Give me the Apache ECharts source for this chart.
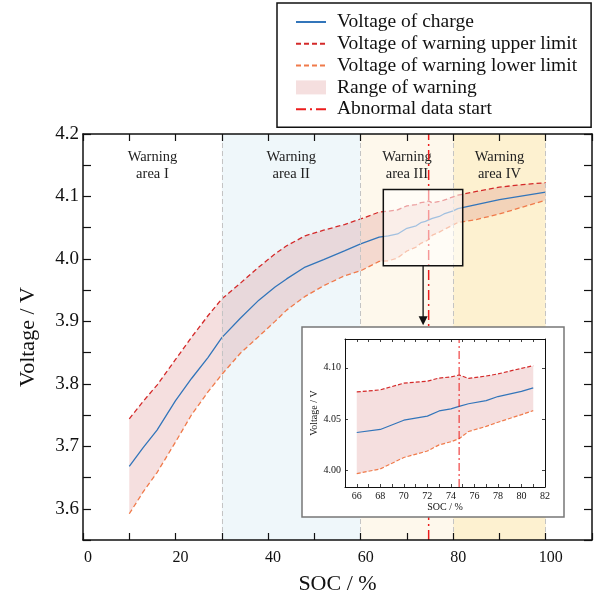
<!DOCTYPE html>
<html>
<head>
<meta charset="utf-8">
<script src="https://cdn.jsdelivr.net/npm/echarts@6/dist/echarts.min.js"></script>
<style>html,body{margin:0;padding:0;background:#fff;}#c{width:599px;height:600px;}</style>
</head>
<body>
<div id="c"></div>
<script>
// ---- data ----
const soc = [10,13,16,20,23.5,27,30,34,38,41.5,44,48,52,56.5,60,64,66,68,70,72,73,74,74.7,75.5,77,78,80,81,85,90,95,100];
const charge = [3.668,3.698,3.726,3.773,3.809,3.842,3.874,3.905,3.934,3.955,3.968,3.987,3.999,4.013,4.024,4.035,4.037,4.040,4.049,4.053,4.058,4.060,4.0625,4.065,4.068,4.072,4.077,4.0805,4.087,4.095,4.101,4.107];
const upper = [3.744,3.772,3.798,3.839,3.875,3.909,3.936,3.961,3.987,4.008,4.021,4.037,4.046,4.055,4.064,4.075,4.0765,4.0785,4.085,4.087,4.090,4.091,4.093,4.0896,4.092,4.094,4.0995,4.102,4.108,4.115,4.119,4.122];
const lower = [3.592,3.627,3.658,3.707,3.751,3.787,3.815,3.849,3.876,3.900,3.918,3.940,3.957,3.973,3.981,3.996,3.997,4.0016,4.0127,4.019,4.025,4.028,4.031,4.038,4.043,4.047,4.0544,4.0583,4.063,4.072,4.083,4.094];
const areaBounds = [0, 30, 60, 80, 100];
const areaNames = ['Warning\narea I', 'Warning\narea II', 'Warning\narea III', 'Warning\narea IV'];
const abnormalSoc = 74.7;
const insetRange = [66, 81];
const zoomBox = [64.9, 3.989, 82.06, 4.111];
const arrowX = 73.5;
const arrowY = [3.989, 3.894];
const xTicksMain = [0, 110, 10];
const yTicksMain = [3.55, 4.2, 0.05];
const insetX = [65, 82, 1];
const insetY = [3.984, 4.128];
const insetYTicks = [4.00, 4.05, 4.10];

// ---- styles ----
const FONT = 'Liberation Serif';
const C_BLUE = '#3275ba', C_RED = '#d42a2a', C_ORANGE = '#f07a4a', C_ABN = '#ec1c1c';
const BAND = 'rgba(205,95,95,0.2)';
const areaColors = ['rgba(0,0,0,0)', '#eff7fa', '#fef8ec', '#fdf1d0'];

const idx = soc.map((s, i) => i).filter(i => soc[i] >= insetRange[0] && soc[i] <= insetRange[1]);
const sub = arr => idx.map(i => arr[i]);
const socIn = sub(soc), chargeIn = sub(charge), upperIn = sub(upper), lowerIn = sub(lower);
const pairs = (xs, ys) => xs.map((x, i) => [x, ys[i]]);

function bandRender(xs, lo, hi) {
  return function (params, api) {
    if (params.dataIndex !== 0) return;
    const pts = [];
    for (let i = 0; i < xs.length; i++) pts.push(api.coord([xs[i], hi[i]]));
    for (let i = xs.length - 1; i >= 0; i--) pts.push(api.coord([xs[i], lo[i]]));
    return { type: 'polygon', shape: { points: pts }, style: { fill: BAND } };
  };
}

function axisX(gi, pos, rng, showLabel, fs, fmt, tickLen, name, gap, nameFs) {
  return {
    type: 'value', gridIndex: gi, position: pos, min: rng[0], max: rng[1], interval: rng[2], z: gi === 0 ? 15 : 40,
    name: name || '', nameLocation: 'middle', nameGap: gap || 0,
    nameTextStyle: { fontFamily: FONT, fontSize: nameFs || 12, color: '#111' },
    axisLine: { show: true, onZero: false, lineStyle: { color: '#111', width: gi === 0 ? 1.5 : 1 } },
    axisTick: { show: true, inside: true, length: tickLen, lineStyle: { color: '#111', width: gi === 0 ? 1.2 : 0.8 } },
    axisLabel: { show: showLabel, fontFamily: FONT, fontSize: fs, color: '#111', formatter: fmt, margin: gi === 0 ? 10 : 4, padding: gi === 0 ? [0, 0, 0, 10] : 0 },
    splitLine: { show: false }
  };
}

const mainXFmt = v => (Math.round(v) % 20 === 0 && v <= 100) ? String(Math.round(v)) : '';
const mainYFmt = v => { const r = Math.round(v * 100); return r % 10 === 0 ? (r / 100).toFixed(1) : ''; };
const inXFmt = v => (Math.round(v) % 2 === 0) ? String(Math.round(v)) : '';

const xAxes = [
  axisX(0, 'bottom', xTicksMain, true, 16, mainXFmt, 7, 'SOC / %', 33, 22),
  axisX(0, 'top', xTicksMain, false, 16, mainXFmt, 7),
  axisX(1, 'bottom', insetX, true, 10, inXFmt, 3, 'SOC / %', 15, 10),
  axisX(1, 'top', insetX, false, 10, inXFmt, 3)
];
const yAxes = [
  {
    type: 'value', gridIndex: 0, position: 'left', min: yTicksMain[0], max: yTicksMain[1], interval: yTicksMain[2], z: 15,
    name: 'Voltage / V', nameLocation: 'middle', nameGap: 44,
    nameTextStyle: { fontFamily: FONT, fontSize: 22, color: '#111' },
    axisLine: { show: true, onZero: false, lineStyle: { color: '#111', width: 1.5 } },
    axisTick: { show: true, inside: true, length: 8, lineStyle: { color: '#111', width: 1.2 } },
    axisLabel: { fontFamily: FONT, fontSize: 19, color: '#111', formatter: mainYFmt, margin: 4 },
    splitLine: { show: false }
  },
  {
    type: 'value', gridIndex: 0, position: 'right', min: yTicksMain[0], max: yTicksMain[1], interval: yTicksMain[2], z: 15,
    axisLine: { show: true, onZero: false, lineStyle: { color: '#111', width: 1.5 } },
    axisTick: { show: true, inside: true, length: 8, lineStyle: { color: '#111', width: 1.2 } },
    axisLabel: { show: false }, splitLine: { show: false }
  },
  {
    type: 'value', gridIndex: 1, position: 'left', min: insetY[0], max: insetY[1], z: 40,
    name: 'Voltage / V', nameLocation: 'middle', nameGap: 25,
    nameTextStyle: { fontFamily: FONT, fontSize: 10, color: '#111' },
    axisLine: { show: true, onZero: false, lineStyle: { color: '#111', width: 1 } },
    axisTick: { show: true, inside: true, length: 3, customValues: insetYTicks, lineStyle: { color: '#111', width: 0.8 } },
    axisLabel: { fontFamily: FONT, fontSize: 10, color: '#111', customValues: insetYTicks, formatter: v => v.toFixed(2), margin: 4 },
    splitLine: { show: false }
  },
  {
    type: 'value', gridIndex: 1, position: 'right', min: insetY[0], max: insetY[1], z: 40,
    axisLine: { show: true, onZero: false, lineStyle: { color: '#111', width: 1 } },
    axisTick: { show: true, inside: true, length: 3, customValues: insetYTicks, lineStyle: { color: '#111', width: 0.8 } },
    axisLabel: { show: false, customValues: insetYTicks }, splitLine: { show: false }
  }
];

function lineSeries(name, xi, yi, data, color, type, width, z) {
  return {
    name: name, type: 'line', xAxisIndex: xi, yAxisIndex: yi, data: data, showSymbol: false, symbol: 'none',
    lineStyle: { color: color, type: type, width: width }, itemStyle: { color: color }, z: z, silent: true
  };
}

const mainAreas = areaNames.map((n, i) => [
  { xAxis: areaBounds[i], itemStyle: { color: areaColors[i] },
    label: { show: true, position: 'insideTop', distance: 15, formatter: n, fontFamily: FONT, fontSize: 14.5, lineHeight: 17, color: '#222' } },
  { xAxis: areaBounds[i + 1] }
]);

const series = [
  {
    type: 'line', xAxisIndex: 0, yAxisIndex: 0, data: [[0, 3.55]], symbol: 'none', lineStyle: { opacity: 0 }, z: 1, silent: true,
    markArea: { silent: true, data: mainAreas },
    markLine: { silent: true, symbol: 'none', label: { show: false },
      lineStyle: { color: '#c4c4c4', type: [5, 3], width: 1 },
      data: areaBounds.slice(1).map(b => ({ xAxis: b })) }
  },
  {
    name: 'Range of warning', type: 'custom', xAxisIndex: 0, yAxisIndex: 0, data: pairs(soc, upper), encode: { x: 0, y: 1 },
    renderItem: bandRender(soc, lower, upper), itemStyle: { color: BAND }, z: 2, silent: true
  },
  lineSeries('Voltage of warning upper limit', 0, 0, pairs(soc, upper), C_RED, [5, 3], 1.3, 3),
  lineSeries('Voltage of warning lower limit', 0, 0, pairs(soc, lower), C_ORANGE, [5, 3], 1.3, 3),
  lineSeries('Voltage of charge', 0, 0, pairs(soc, charge), C_BLUE, 'solid', 1.3, 3),
  lineSeries('Abnormal data start', 0, 0, [[abnormalSoc, yTicksMain[0]], [abnormalSoc, yTicksMain[1]]], C_ABN, [10, 4, 2, 4], 1.5, 4),
  {
    type: 'custom', xAxisIndex: 0, yAxisIndex: 0, data: [[zoomBox[0], zoomBox[3]]], encode: { x: 0, y: 1 }, z: 6, silent: true,
    renderItem: function (params, api) {
      const p1 = api.coord([zoomBox[0], zoomBox[3]]), p2 = api.coord([zoomBox[2], zoomBox[1]]);
      return { type: 'rect', shape: { x: p1[0], y: p1[1], width: p2[0] - p1[0], height: p2[1] - p1[1] },
        style: { fill: 'rgba(255,255,255,0.55)', stroke: '#111', lineWidth: 1.5 } };
    }
  },
  {
    type: 'custom', xAxisIndex: 0, yAxisIndex: 0, data: [[arrowX, arrowY[0]]], encode: { x: 0, y: 1 }, z: 7, silent: true,
    renderItem: function (params, api) {
      const a = api.coord([arrowX, arrowY[0]]), b = api.coord([arrowX, arrowY[1]]);
      return { type: 'group', children: [
        { type: 'line', shape: { x1: a[0], y1: a[1], x2: b[0], y2: b[1] - 8 }, style: { stroke: '#111', lineWidth: 1.3 } },
        { type: 'polygon', shape: { points: [[b[0] - 4.5, b[1] - 9], [b[0] + 4.5, b[1] - 9], [b[0], b[1]]] }, style: { fill: '#111' } }
      ] };
    }
  },
  // ---- inset ----
  {
    type: 'line', xAxisIndex: 2, yAxisIndex: 2, data: [[insetX[0], insetY[0]]], symbol: 'none', lineStyle: { opacity: 0 }, z: 25, silent: true,
    markArea: { silent: true, data: [
      [{ xAxis: insetX[0], itemStyle: { color: areaColors[2] } }, { xAxis: areaBounds[3] }],
      [{ xAxis: areaBounds[3], itemStyle: { color: areaColors[3] } }, { xAxis: insetX[1] }]
    ] }
  },
  {
    name: 'Range of warning', type: 'custom', xAxisIndex: 2, yAxisIndex: 2, data: pairs(socIn, upperIn), encode: { x: 0, y: 1 },
    renderItem: bandRender(socIn, lowerIn, upperIn), itemStyle: { color: BAND }, z: 30, silent: true
  },
  lineSeries('Voltage of warning upper limit', 2, 2, pairs(socIn, upperIn), C_RED, [4, 2], 1.2, 31),
  lineSeries('Voltage of warning lower limit', 2, 2, pairs(socIn, lowerIn), C_ORANGE, [4, 2], 1.2, 31),
  lineSeries('Voltage of charge', 2, 2, pairs(socIn, chargeIn), C_BLUE, 'solid', 1.2, 31),
  lineSeries('Abnormal data start', 2, 2, [[abnormalSoc, insetY[0]], [abnormalSoc, insetY[1]]], C_ABN, [8, 3, 2, 3], 1, 32)
];

const hideSym = { opacity: 0 };
const option = {
  animation: false,
  backgroundColor: '#fff',
  textStyle: { fontFamily: FONT },
  legend: {
    orient: 'vertical', left: 277, top: 3, align: 'left',
    backgroundColor: '#fff', borderColor: '#111', borderWidth: 1.5,
    padding: [9, 14, 8, 18], itemWidth: 30, itemHeight: 14, itemGap: 1.8,
    textStyle: { fontFamily: FONT, fontSize: 19.5, lineHeight: 19.5, color: '#111', padding: [0, 0, 0, 6] },
    selectedMode: false,
    data: [
      { name: 'Voltage of charge', itemStyle: hideSym },
      { name: 'Voltage of warning upper limit', itemStyle: hideSym },
      { name: 'Voltage of warning lower limit', itemStyle: hideSym },
      { name: 'Range of warning', icon: 'rect', itemStyle: { color: BAND, opacity: 1 } },
      { name: 'Abnormal data start', itemStyle: hideSym }
    ]
  },
  grid: [
    { left: 83, right: 7, top: 134, bottom: 57 },
    { left: 345, right: 54, top: 339, bottom: 113 }
  ],
  xAxis: xAxes,
  yAxis: yAxes,
  graphic: [
    { type: 'rect', z: 20, shape: { x: 302, y: 327, width: 262, height: 190 }, style: { fill: '#fff', stroke: '#777', lineWidth: 1.5 } }
  ],
  series: series
};

const chart = echarts.init(document.getElementById('c'), null, { renderer: 'canvas' });
chart.setOption(option);
</script>
</body>
</html>
